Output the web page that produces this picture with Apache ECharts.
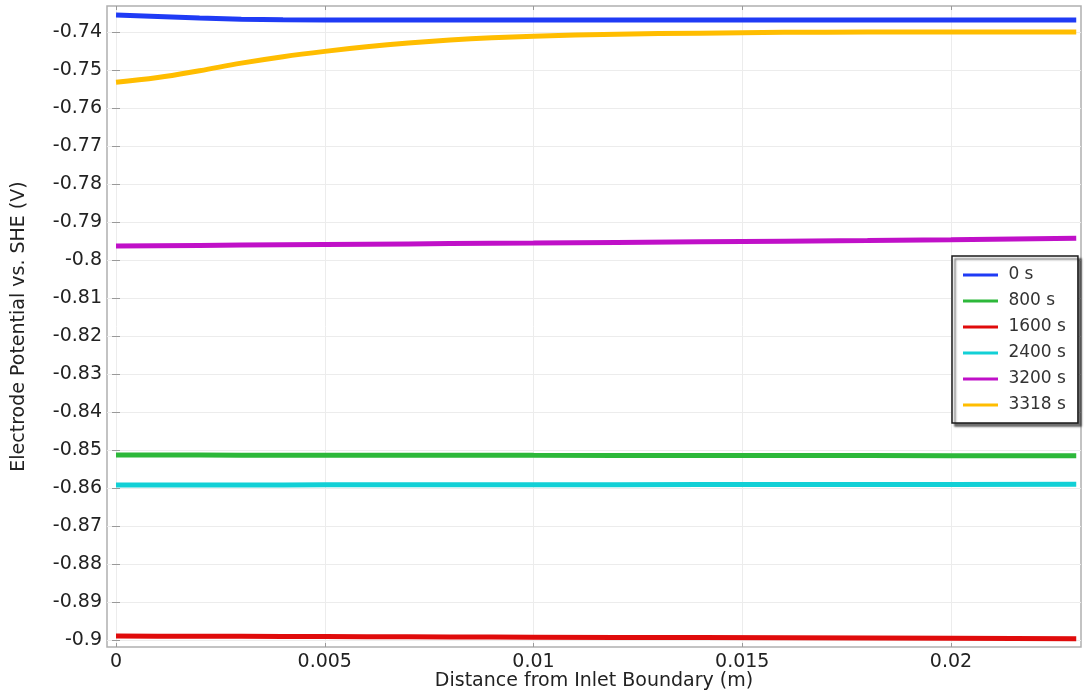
<!DOCTYPE html>
<html>
<head>
<meta charset="utf-8">
<title>Electrode Potential along the Electrode</title>
<script src="https://cdn.jsdelivr.net/npm/echarts@6.0.0/dist/echarts.min.js"></script>
<style>
  html, body { margin: 0; padding: 0; background: #fff; }
  #chart { width: 1086px; height: 698px; }
</style>
</head>
<body>
<div id="chart"></div>
<script>
// Distance from the inlet boundary (m) at which each curve is sampled
const distance = [0, 0.001, 0.002, 0.003, 0.004, 0.005, 0.006, 0.007, 0.008, 0.009,
                  0.010, 0.012, 0.014, 0.016, 0.018, 0.020, 0.023];

// Electrode potential vs. SHE (V) at each time
const pot0 = [-0.73553, -0.73590, -0.73635, -0.73665, -0.73679, -0.73684, -0.73684, -0.73684, -0.73684, -0.73684,
              -0.73684, -0.73684, -0.73684, -0.73684, -0.73684, -0.73684, -0.73684];
const pot800 = [-0.85132, -0.85133, -0.85134, -0.85135, -0.85136, -0.85137, -0.85138, -0.85139, -0.85140, -0.85140,
                -0.85141, -0.85142, -0.85144, -0.85145, -0.85147, -0.85148, -0.85150];
const pot1600 = [-0.89895, -0.89898, -0.89901, -0.89904, -0.89907, -0.89910, -0.89913, -0.89916, -0.89919, -0.89922,
                 -0.89925, -0.89931, -0.89937, -0.89943, -0.89949, -0.89955, -0.89966];
const pot2400 = [-0.85921, -0.85920, -0.85919, -0.85918, -0.85918, -0.85917, -0.85916, -0.85915, -0.85914, -0.85914,
                 -0.85913, -0.85912, -0.85910, -0.85909, -0.85907, -0.85906, -0.85903];
const pot3200 = [-0.79632, -0.79624, -0.79616, -0.79608, -0.79600, -0.79592, -0.79584, -0.79576, -0.79568, -0.79560,
                 -0.79553, -0.79537, -0.79521, -0.79505, -0.79489, -0.79470, -0.79429];
const pot3318 = [-0.75320, -0.75200, -0.75020, -0.74820, -0.74650, -0.74510, -0.74390, -0.74290, -0.74210, -0.74150,
                 -0.74110, -0.74060, -0.74030, -0.74010, -0.74002, -0.74000, -0.74000];

const seriesNames = ['0 s', '800 s', '1600 s', '2400 s', '3200 s', '3318 s'];
const seriesValues = [pot0, pot800, pot1600, pot2400, pot3200, pot3318];
const seriesColors = ['#1f3bf5', '#2db83a', '#e00b0b', '#12d0d6', '#c010c8', '#ffbd00'];

// Tick labels
const xTicks = [0, 0.005, 0.01, 0.015, 0.02];
const yTicks = [-0.74, -0.75, -0.76, -0.77, -0.78, -0.79, -0.8, -0.81, -0.82, -0.83,
                -0.84, -0.85, -0.86, -0.87, -0.88, -0.89, -0.9];

const FONT = 'DejaVu Sans';
const xRange = [-0.000216, 0.023114];
const yRange = [-0.90184, -0.73316];

const chart = echarts.init(document.getElementById('chart'), null, { renderer: 'canvas' });

const tickStyle = { show: true, inside: true, length: 4, lineStyle: { color: '#999', width: 1 } };
const gridLine = { show: true, lineStyle: { color: '#ececec', width: 1 } };

chart.setOption({
  animation: false,
  backgroundColor: '#fff',
  grid: {
    left: 107, right: 5, top: 6, bottom: 51,
    outerBoundsMode: 'none', containLabel: false,
    show: true, borderColor: '#b0b0b0', borderWidth: 1.5, backgroundColor: '#fff'
  },
  xAxis: [{
    type: 'value', min: xRange[0], max: xRange[1],
    name: 'Distance from Inlet Boundary (m)', nameLocation: 'middle', nameGap: 25,
    nameMoveOverlap: false,
    nameTextStyle: { fontFamily: FONT, fontSize: 19, color: '#222' },
    axisLine: { show: false },
    axisTick: Object.assign({ customValues: xTicks }, tickStyle),
    axisLabel: { customValues: xTicks, fontFamily: FONT, fontSize: 19, color: '#222', margin: 6 },
    splitLine: gridLine
  }, {
    type: 'value', position: 'top', min: xRange[0], max: xRange[1],
    axisLine: { show: false },
    axisTick: Object.assign({ customValues: xTicks }, tickStyle),
    axisLabel: { show: false }, splitLine: { show: false }
  }],
  yAxis: [{
    type: 'value', min: yRange[0], max: yRange[1],
    name: 'Electrode Potential vs. SHE (V)', nameLocation: 'middle', nameGap: 78,
    nameMoveOverlap: false,
    nameTextStyle: { fontFamily: FONT, fontSize: 19, color: '#222' },
    axisLine: { show: false },
    axisTick: Object.assign({ customValues: yTicks }, tickStyle),
    axisLabel: { customValues: yTicks, fontFamily: FONT, fontSize: 19, color: '#222', margin: 5 },
    splitLine: gridLine
  }, {
    type: 'value', position: 'right', min: yRange[0], max: yRange[1],
    axisLine: { show: false },
    axisTick: Object.assign({ customValues: yTicks }, tickStyle),
    axisLabel: { show: false }, splitLine: { show: false }
  }],
  legend: {
    orient: 'vertical', left: 952, top: 256,
    padding: [9, 12, 8, 11], itemGap: 6, itemWidth: 35, itemHeight: 3,
    icon: 'rect',
    backgroundColor: '#fff', borderColor: '#1a1a1a', borderWidth: 1.5,
    shadowColor: 'rgba(0,0,0,0.55)', shadowBlur: 2, shadowOffsetX: 3, shadowOffsetY: 3,
    textStyle: { fontFamily: FONT, fontSize: 17, color: '#333', lineHeight: 20 },
    formatter: name => ' ' + name,
    data: seriesNames
  },
  series: seriesNames.map((name, i) => ({
    name,
    type: 'line',
    symbol: 'none',
    smooth: i === 5 ? 0.4 : false,
    color: seriesColors[i],
    lineStyle: { width: 5, color: seriesColors[i] },
    data: distance.map((x, k) => [x, seriesValues[i][k]])
  }))
});
</script>
</body>
</html>
